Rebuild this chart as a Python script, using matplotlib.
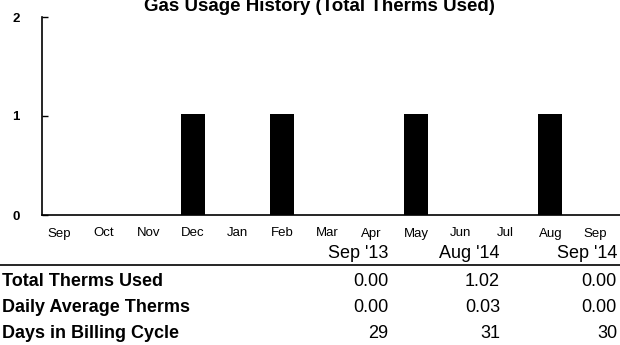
import numpy as np
import matplotlib
matplotlib.use("Agg")
import matplotlib.pyplot as plt
from matplotlib.lines import Line2D

# monthly gas usage, Sep '13 .. Sep '14
months = ["Sep", "Oct", "Nov", "Dec", "Jan", "Feb", "Mar",
          "Apr", "May", "Jun", "Jul", "Aug", "Sep"]
therms = [0, 0, 0, 1.02, 0, 1.02, 0, 0, 1.02, 0, 0, 1.02, 0]

# summary table under the chart
periods = ["Sep '13", "Aug '14", "Sep '14"]
row_names = ["Total Therms Used", "Daily Average Therms", "Days in Billing Cycle"]
total_used = ["0.00", "1.02", "0.00"]
daily_avg = ["0.00", "0.03", "0.00"]
billing_days = ["29", "31", "30"]

W, H = 620, 345
font = ["Liberation Sans", "DejaVu Sans"]
plt.rcParams["font.family"] = font

fig = plt.figure(figsize=(W / 100, H / 100), dpi=100)

def fx(px):
    return px / W

def fy(py):
    return 1 - py / H

ax = fig.add_axes([fx(42), fy(215), fx(620 - 42), (215 - 17) / H])
x = np.arange(len(months))
ax.bar(x, therms, width=0.54, color="black")

ax.set_xlim(-0.38, 12.56)
ax.set_ylim(0, 2)
ax.set_yticks([0, 1, 2])
ax.set_yticklabels(["0", "1", "2"], fontsize=9.5, fontweight="bold")
ax.tick_params(axis="y", direction="in", length=4, width=1, pad=16)
ax.set_xticks(x)
ax.set_xticklabels(months, fontsize=9.5)
ax.tick_params(axis="x", length=0, pad=9)
for s in ["top", "right"]:
    ax.spines[s].set_visible(False)
ax.spines["left"].set_linewidth(1.2)
ax.spines["bottom"].set_linewidth(1.2)

fig.text(fx(319), fy(11), "Gas Usage History (Total Therms Used)",
         ha="center", va="baseline", fontsize=13.5, fontweight="bold")

# table header and rule
col_right = [388, 500, 617]
for px, p in zip(col_right, periods):
    fig.text(fx(px), fy(253), p, ha="right", va="center", fontsize=13)
fig.add_artist(Line2D([0, 1], [fy(265), fy(265)], color="black", lw=1.2))

rows = [total_used, daily_avg, billing_days]
row_y = [282, 308, 334]
for py, name, vals in zip(row_y, row_names, rows):
    fig.text(fx(2), fy(py), name, ha="left", va="center",
             fontsize=13, fontweight="bold")
    for px, v in zip(col_right, vals):
        fig.text(fx(px), fy(py), v, ha="right", va="center", fontsize=13)

fig.savefig("out.png", dpi=100)
